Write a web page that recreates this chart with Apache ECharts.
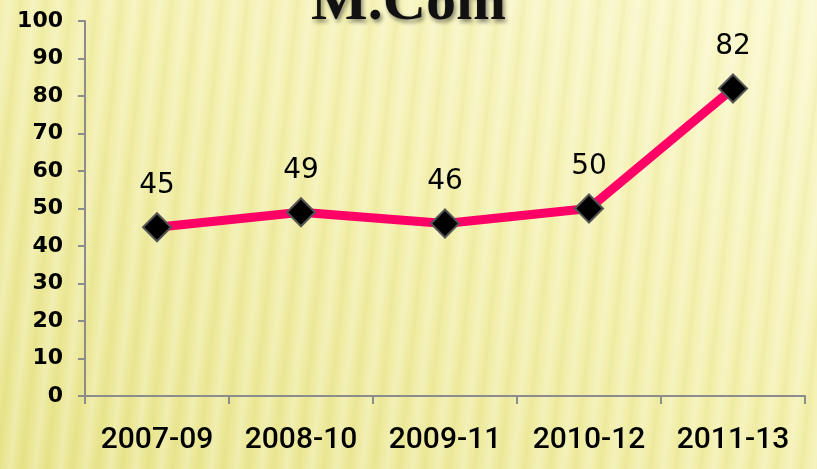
<!DOCTYPE html>
<html>
<head>
<meta charset="utf-8">
<script src="https://cdn.jsdelivr.net/npm/echarts@6/dist/echarts.min.js"></script>
<style>
  html, body { margin: 0; padding: 0; }
  body {
    width: 817px; height: 469px; overflow: hidden;
    background:
      repeating-linear-gradient(96deg, rgba(255,255,255,0.0) 0px, rgba(255,255,255,0.26) 9px, rgba(255,255,255,0.0) 17px, rgba(200,195,90,0.10) 21px, rgba(255,255,255,0.0) 25px),
      linear-gradient(210deg, #faf8cc 0%, #f3f0ad 45%, #e8e48c 100%);
  }
  #chart { width: 817px; height: 469px; }
</style>
</head>
<body>
<div id="chart"></div>
<script>
    var titleText = 'M.Com';
    var years = ['2007-09', '2008-10', '2009-11', '2010-12', '2011-13'];
    var results = [45, 49, 46, 50, 82];
    var yMin = 0, yMax = 100, yStep = 10;

    var chart = echarts.init(document.getElementById('chart'));
    var option = {
        backgroundColor: 'transparent',
        animation: false,
        title: {
            text: titleText,
            left: 'center',
            top: -32,
            textStyle: {
                fontFamily: 'Liberation Serif',
                fontWeight: 'bold',
                fontSize: 60,
                color: '#111',
                textShadowColor: 'rgba(0,0,0,0.45)',
                textShadowBlur: 4,
                textShadowOffsetX: 2,
                textShadowOffsetY: 3
            }
        },
        grid: {
            left: 85,
            right: 12,
            top: 21,
            bottom: 73,
            containLabel: false
        },
        xAxis: {
            type: 'category',
            data: years,
            boundaryGap: true,
            axisLine: { show: true, lineStyle: { color: '#8c8c8c', width: 2 } },
            axisTick: { show: true, length: 8, lineStyle: { color: '#8c8c8c', width: 2 } },
            axisLabel: {
                interval: 0,
                hideOverlap: false,
                margin: 29,
                fontFamily: 'Roboto',
                fontWeight: 500,
                fontSize: 30,
                color: '#000'
            },
            splitLine: { show: false }
        },
        yAxis: {
            type: 'value',
            min: yMin,
            max: yMax,
            interval: yStep,
            axisLine: { show: true, lineStyle: { color: '#8c8c8c', width: 2 } },
            axisTick: { show: true, length: 7, lineStyle: { color: '#8c8c8c', width: 2 } },
            axisLabel: {
                margin: 22,
                fontFamily: 'DejaVu Sans',
                fontWeight: 'bold',
                fontSize: 22,
                color: '#000'
            },
            splitLine: { show: false }
        },
        series: [{
            type: 'line',
            data: results,
            symbol: 'diamond',
            symbolSize: 28,
            lineStyle: { color: '#ff0066', width: 9 },
            itemStyle: { color: '#000', borderColor: '#555', borderWidth: 2 },
            label: {
                show: true,
                position: 'top',
                distance: 13,
                fontFamily: 'DejaVu Sans',
                fontSize: 28,
                color: '#000'
            },
            z: 3
        }]
    };
    chart.setOption(option);
</script>
</body>
</html>
